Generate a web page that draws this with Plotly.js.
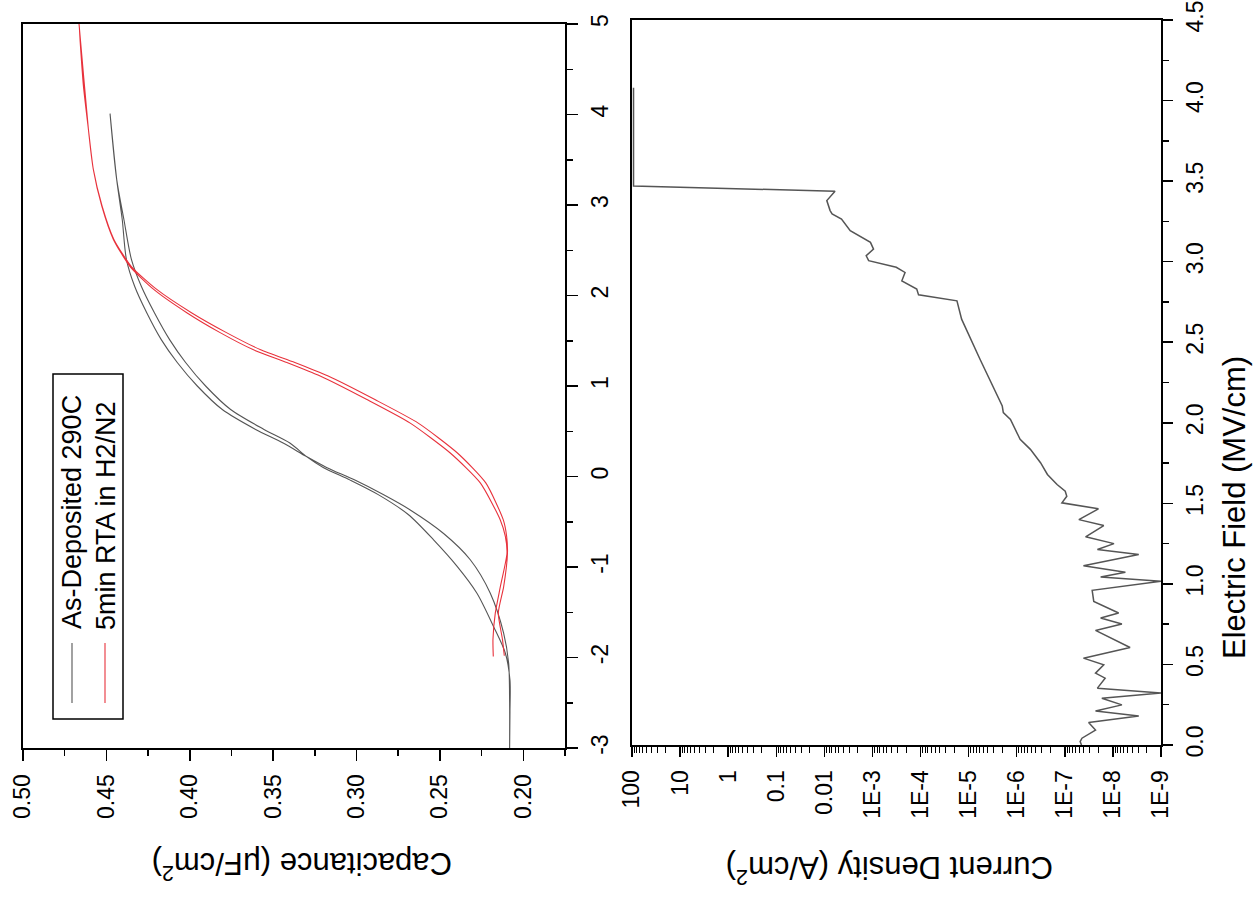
<!DOCTYPE html>
<html>
<head>
<meta charset="utf-8">
<script src="https://cdn.plot.ly/plotly-3.0.1.min.js"></script>
<style>html,body{margin:0;padding:0;background:#fff;}#chart{width:1253px;height:907px;}</style>
</head>
<body>
<div id="chart"></div>
<script>
// ---------- C-V data (capacitance in uF/cm2, voltage in V) ----------
// As-Deposited 290C : forward branch then return branch
const asDepC = [0.2082,0.2080,0.2080,0.2108,0.2178,0.2278,0.2398,0.2538,0.2690,0.2870,0.3038,0.3200,0.3300,0.3400,0.3555,0.3755,0.3905,0.4025,0.4120,0.4212,0.4290,0.4350,0.4395,0.4438,0.4478,
                0.4438,0.4405,0.4380,0.4330,0.4258,0.4170,0.4075,0.3955,0.3805,0.3605,0.3440,0.3300,0.3180,0.3010,0.2840,0.2678,0.2478,0.2318,0.2198,0.2118,0.2088,0.2082,0.2082];
const asDepV = [-3.00,-2.60,-2.25,-1.95,-1.66,-1.29,-0.99,-0.70,-0.42,-0.20,-0.04,0.10,0.22,0.37,0.52,0.74,1.00,1.26,1.51,1.81,2.10,2.40,2.84,3.28,4.01,
                3.28,2.84,2.40,2.10,1.81,1.51,1.26,1.00,0.74,0.52,0.37,0.22,0.10,-0.04,-0.20,-0.37,-0.63,-0.92,-1.29,-1.73,-2.06,-2.50,-2.99];
// 5min RTA in H2/N2
const rtaC = [0.2114,0.2125,0.2150,0.2118,0.2095,0.2100,0.2120,0.2225,0.2395,0.2630,0.2890,0.3170,0.3370,0.3575,0.3780,0.3990,0.4200,0.4350,0.4455,0.4526,
              0.4578,0.4608,0.4638,0.4664,
              0.4608,0.4578,0.4528,0.4458,0.4358,0.4218,0.4018,0.3818,0.3618,0.3418,0.3218,0.2938,0.2678,0.2438,0.2258,0.2138,0.2108,0.2098,0.2138,0.2168,0.2182,0.2180];
const rtaV = [-1.98,-1.80,-1.51,-1.22,-0.85,-0.66,-0.48,-0.07,0.26,0.59,0.85,1.11,1.26,1.40,1.59,1.81,2.07,2.32,2.62,2.99,
              3.39,3.84,4.32,5.00,
              3.84,3.39,2.99,2.62,2.32,2.07,1.81,1.59,1.40,1.26,1.11,0.85,0.59,0.26,-0.07,-0.48,-0.66,-0.85,-1.22,-1.51,-1.80,-1.99];

// ---------- J-E data (field MV/cm, current density A/cm2) ----------
const fieldE = [0.000,0.021,0.042,0.093,0.139,0.180,0.211,0.249,0.290,0.322,0.353,0.415,0.446,0.498,0.539,0.605,0.711,0.751,0.788,0.819,0.891,0.960,1.016,1.043,1.072,1.113,1.182,1.213,1.250,1.292,1.362,1.399,1.466,1.503,1.544,1.575,1.617,1.679,1.752,1.835,1.897,2.021,2.063,2.104,2.394,2.643,2.757,2.794,2.830,2.881,2.933,2.965,3.006,3.037,3.078,3.120,3.192,3.265,3.296,3.317,3.379,3.437,3.470,4.080];
const currJ = [4.5e-8,4.8e-8,4.4e-8,2.3e-8,3.2e-8,2.9e-9,2.3e-8,6.5e-9,1.7e-8,1.0e-9,2.1e-8,1.45e-8,2.3e-8,1.55e-8,4.1e-8,4.4e-9,2.3e-8,6.5e-9,1.8e-8,7.6e-9,2.5e-8,2.7e-8,1.0e-9,1.8e-8,5.5e-9,4.1e-8,2.9e-9,2.1e-8,9.5e-9,3.7e-8,1.55e-8,5.1e-8,2.0e-8,1.15e-7,9.1e-8,9.8e-8,1.45e-7,2.3e-7,3.2e-7,5.2e-7,8.5e-7,1.35e-6,1.9e-6,2.0e-6,5.8e-6,1.4e-5,1.75e-5,1.1e-4,1.2e-4,2.45e-4,2.1e-4,3.2e-4,1.2e-3,1.35e-3,9.5e-4,1.1e-3,2.9e-3,4.4e-3,6.9e-3,7.6e-3,8.9e-3,6.0e-3,93,93];

// ---------- tick labels ----------
const jTickVals = [100,10,1,0.1,0.01,1e-3,1e-4,1e-5,1e-6,1e-7,1e-8,1e-9];
const jTickText = ['100','10','1','0.1','0.01','1E-3','1E-4','1E-5','1E-6','1E-7','1E-8','1E-9'];
const capTickVals = [0.50,0.45,0.40,0.35,0.30,0.25,0.20];
const capTickText = ['0.50','0.45','0.40','0.35','0.30','0.25','0.20'];
const eTickVals = [0,0.5,1,1.5,2,2.5,3,3.5,4,4.5];
const eTickText = ['0.0','0.5','1.0','1.5','2.0','2.5','3.0','3.5','4.0','4.5'];
const vTickVals = [-3,-2,-1,0,1,2,3,4,5];
const vTickText = ['-3','-2','-1','0','1','2','3','4','5'];
const legendNames = ['As-Deposited 290C','5min RTA in H2/N2'];

// minor ticks for log axis
const jMinor = [];
for (let d = -9; d <= 1; d++) for (let k = 2; k <= 9; k++) jMinor.push(k * Math.pow(10, d));

const W = 1253, H = 907;
const px = x => x / W;
const py = y => 1 - y / H;
const FONT = 'Liberation Sans, Arial, sans-serif';
const AX = '#000';
const GRAY = '#555555';
const RED = 'rgb(232,50,60)';

const traces = [
  {x: asDepC, y: asDepV, xaxis: 'x', yaxis: 'y', mode: 'lines', name: legendNames[0],
   line: {color: GRAY, width: 1.1, shape: 'spline', smoothing: 0.8}, showlegend: false},
  {x: rtaC, y: rtaV, xaxis: 'x', yaxis: 'y', mode: 'lines', name: legendNames[1],
   line: {color: RED, width: 1.1, shape: 'spline', smoothing: 0.6}, showlegend: false},
  {x: currJ, y: fieldE, xaxis: 'x2', yaxis: 'y2', mode: 'lines', name: 'J-E',
   line: {color: GRAY, width: 1.5}, showlegend: false}
];

const tickFont = {family: FONT, size: 23, color: '#000'};
const titleFont = {family: FONT, size: 31, color: '#000'};

const layout = {
  width: W, height: H,
  margin: {l: 0, r: 0, t: 0, b: 0},
  paper_bgcolor: '#fff', plot_bgcolor: '#fff',
  showlegend: false,
  xaxis: {
    domain: [px(23), px(565)], anchor: 'y', range: [0.50, 0.175],
    tickmode: 'array', tickvals: capTickVals, ticktext: capTickText, tickangle: -90,
    ticks: 'outside', ticklen: 11, tickwidth: 1.5, tickcolor: AX,
    minor: {dtick: 0.025, tick0: 0, ticks: 'outside', ticklen: 6, tickwidth: 1.5, tickcolor: AX},
    showline: true, linecolor: AX, linewidth: 2, mirror: true,
    showgrid: false, zeroline: false, tickfont: tickFont, ticklabelstandoff: 4
  },
  yaxis: {
    domain: [py(748), py(24)], anchor: 'x', side: 'right', range: [-3, 5],
    tickmode: 'array', tickvals: vTickVals, ticktext: vTickText, tickangle: -90,
    ticks: 'outside', ticklen: 11, tickwidth: 1.5, tickcolor: AX,
    minor: {dtick: 0.5, tick0: 0, ticks: 'outside', ticklen: 6, tickwidth: 1.5, tickcolor: AX},
    showline: true, linecolor: AX, linewidth: 2, mirror: true,
    showgrid: false, zeroline: false, tickfont: tickFont, ticklabelstandoff: 2
  },
  xaxis2: {
    domain: [px(632), px(1161)], anchor: 'y2', type: 'log', range: [2, -9],
    tickmode: 'array', tickvals: jTickVals, ticktext: jTickText, tickangle: -90,
    ticks: 'outside', ticklen: 10, tickwidth: 1.5, tickcolor: AX,
    minor: {tickmode: 'array', tickvals: jMinor, ticks: 'outside', ticklen: 6, tickwidth: 1, tickcolor: AX},
    showline: true, linecolor: AX, linewidth: 2, mirror: true,
    showgrid: false, zeroline: false, tickfont: tickFont, ticklabelstandoff: 4
  },
  yaxis2: {
    domain: [py(745), py(20)], anchor: 'x2', side: 'right', range: [0, 4.5],
    tickmode: 'array', tickvals: eTickVals, ticktext: eTickText, tickangle: -90,
    ticks: 'outside', ticklen: 10, tickwidth: 1.5, tickcolor: AX,
    minor: {dtick: 0.25, tick0: 0, ticks: 'outside', ticklen: 6, tickwidth: 1.5, tickcolor: AX},
    showline: true, linecolor: AX, linewidth: 2, mirror: true,
    showgrid: false, zeroline: false, tickfont: tickFont, ticklabelstandoff: 2
  },
  shapes: [
    {type: 'rect', xref: 'paper', yref: 'paper', x0: px(53), x1: px(123), y0: py(719), y1: py(374),
     line: {color: '#000', width: 1.5}, fillcolor: 'rgba(0,0,0,0)'},
    {type: 'line', xref: 'paper', yref: 'paper', x0: px(72), x1: px(72), y0: py(703), y1: py(643),
     line: {color: GRAY, width: 1.1}},
    {type: 'line', xref: 'paper', yref: 'paper', x0: px(105), x1: px(105), y0: py(703), y1: py(643),
     line: {color: RED, width: 1.1}}
  ],
  annotations: [
    {xref: 'paper', yref: 'paper', x: px(72), y: py(512), text: legendNames[0], textangle: -90,
     showarrow: false, xanchor: 'center', yanchor: 'middle', font: {family: FONT, size: 27, color: '#000'}},
    {xref: 'paper', yref: 'paper', x: px(106), y: py(516), text: legendNames[1], textangle: -90,
     showarrow: false, xanchor: 'center', yanchor: 'middle', font: {family: FONT, size: 27, color: '#000'}},
    {xref: 'paper', yref: 'paper', x: px(302), y: py(866), text: 'Capacitance (μF/cm<sup>2</sup>)', textangle: 180,
     showarrow: false, xanchor: 'center', yanchor: 'middle', font: titleFont},
    {xref: 'paper', yref: 'paper', x: px(890), y: py(870), text: 'Current Density (A/cm<sup>2</sup>)', textangle: 180,
     showarrow: false, xanchor: 'center', yanchor: 'middle', font: titleFont},
    {xref: 'paper', yref: 'paper', x: px(1235), y: py(508), text: 'Electric Field (MV/cm)', textangle: -90,
     showarrow: false, xanchor: 'center', yanchor: 'middle', font: titleFont}
  ]
};

Plotly.newPlot('chart', traces, layout, {staticPlot: true, displayModeBar: false});
</script>
</body>
</html>
